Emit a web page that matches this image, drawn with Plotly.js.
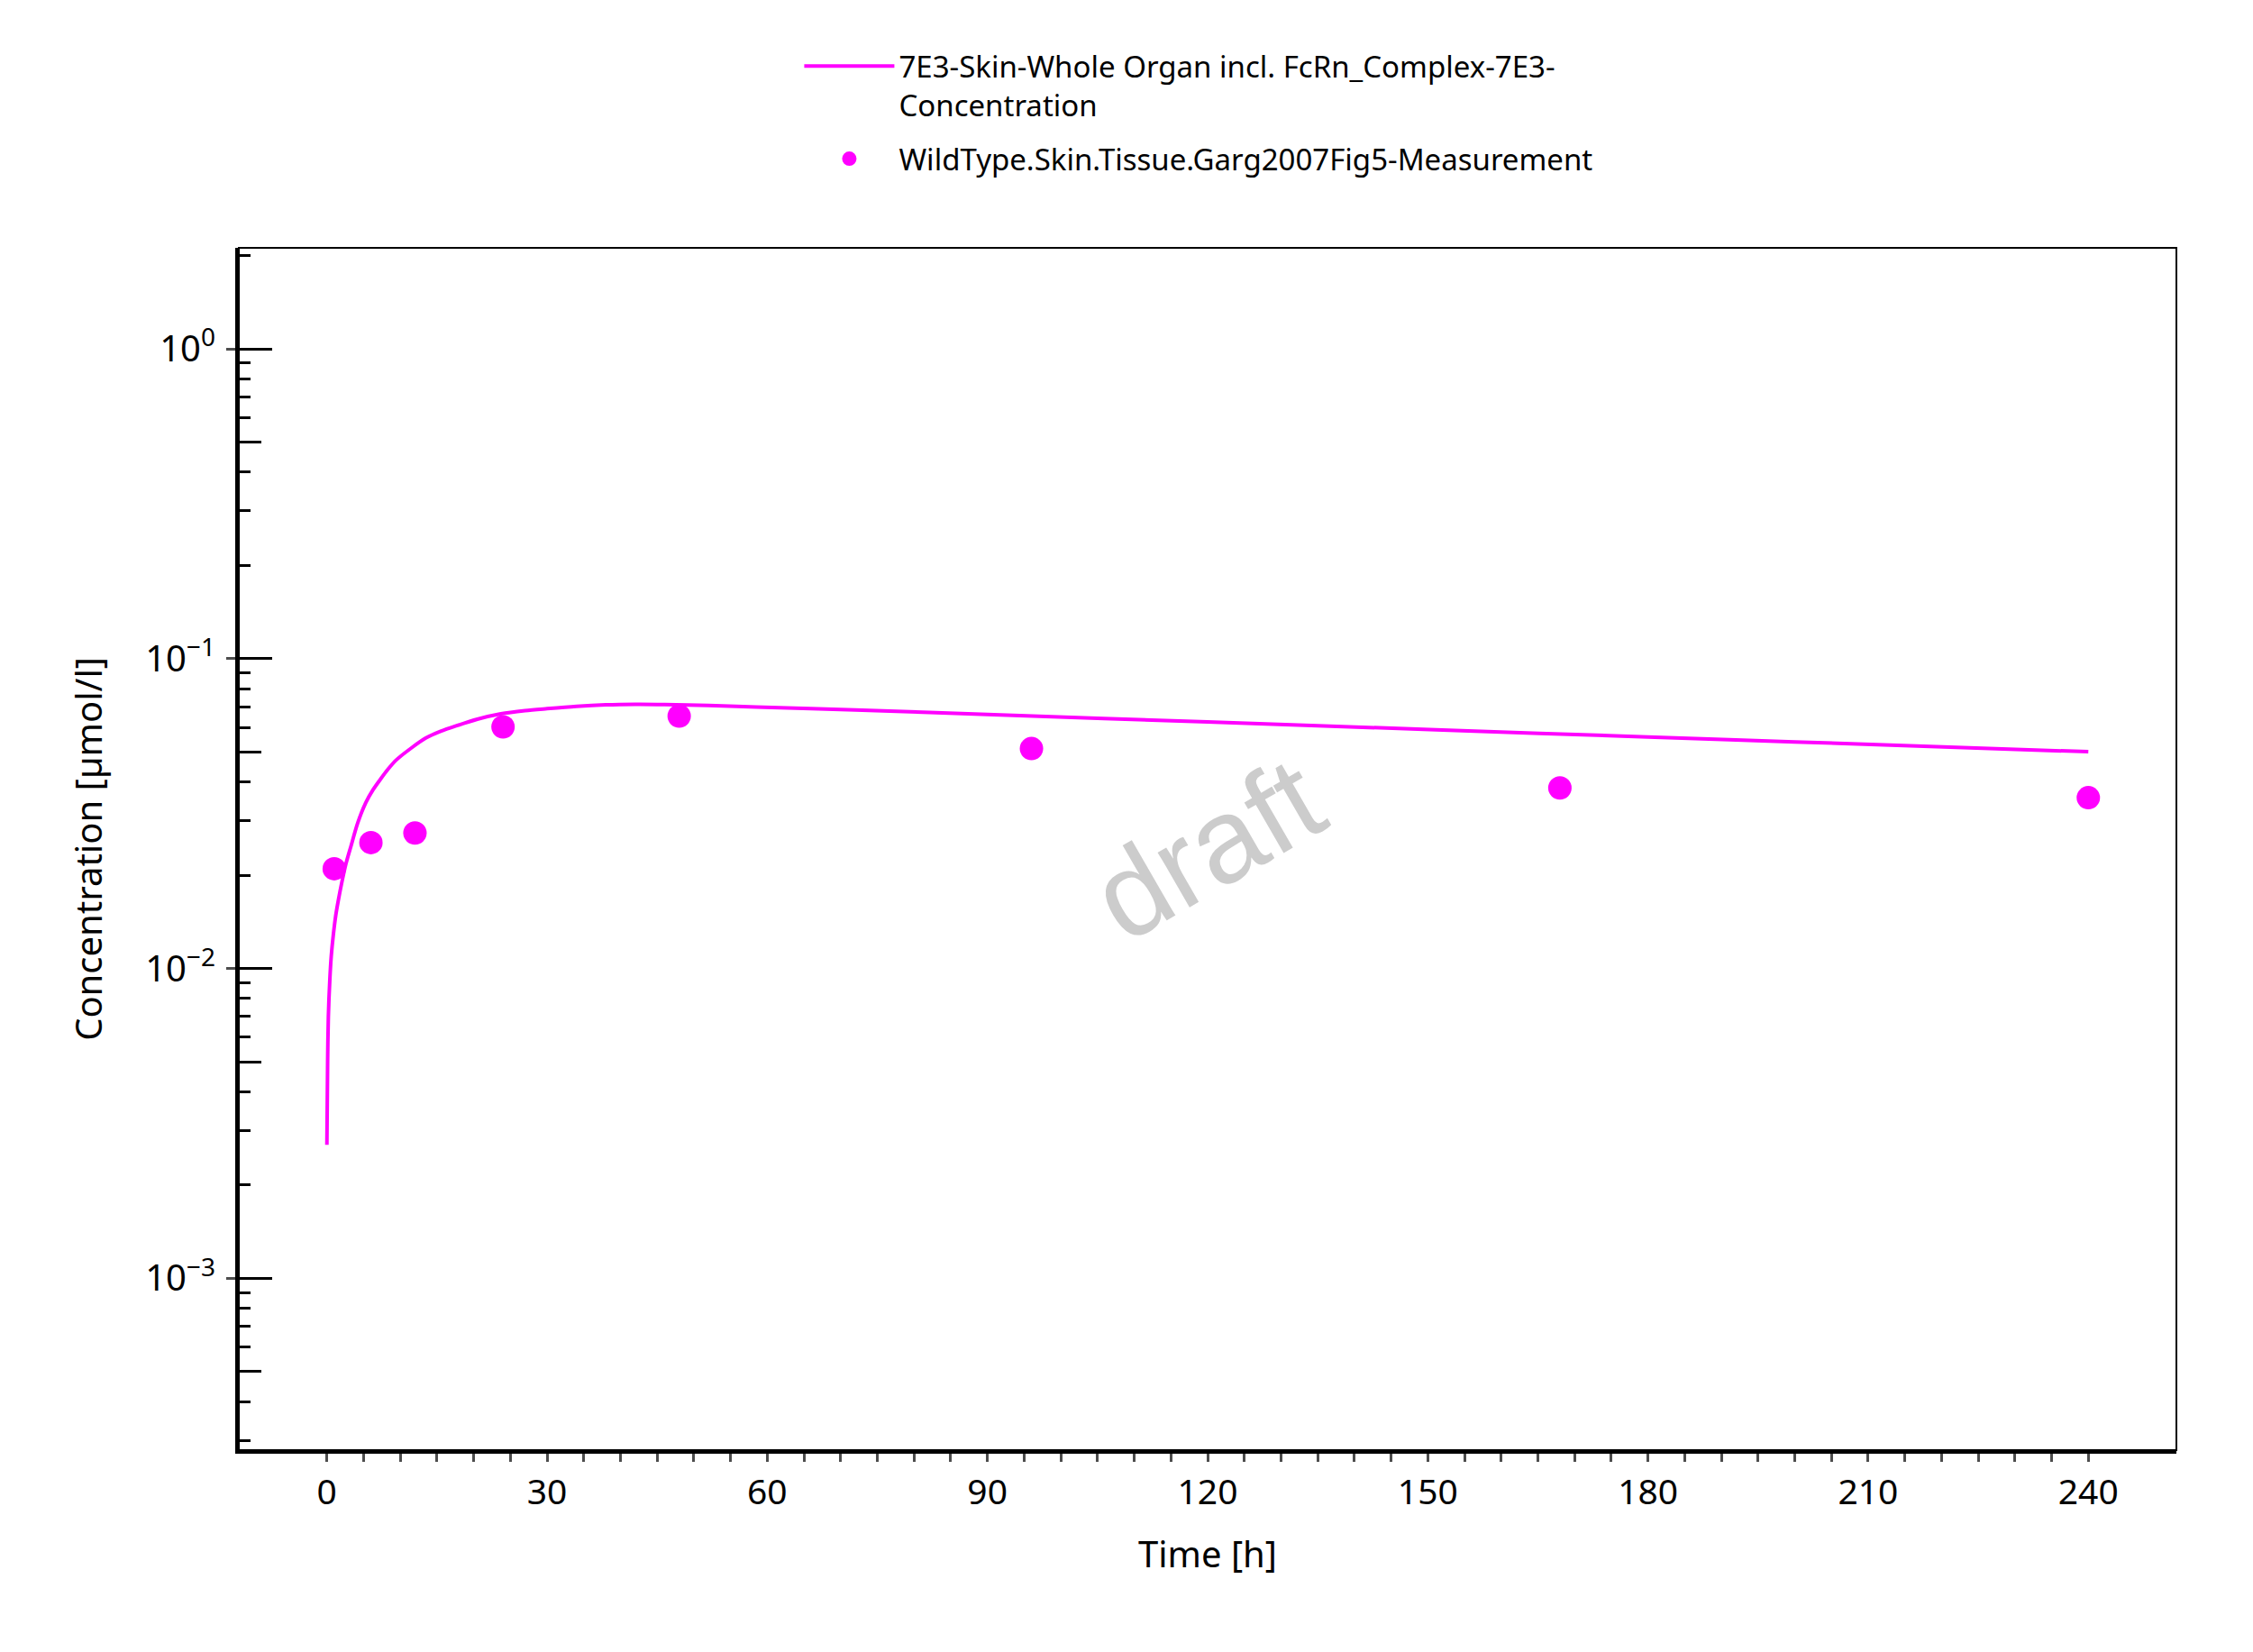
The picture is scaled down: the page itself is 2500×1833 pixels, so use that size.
<!DOCTYPE html>
<html>
<head>
<meta charset="utf-8">
<script src="https://cdn.plot.ly/plotly-3.0.1.min.js"></script>
<style>html,body{margin:0;padding:0;background:#fff;}#chart{width:2500px;height:1833px;}</style>
</head>
<body>
<div id="chart"></div>
<script>
// Simulated curve (time in h, concentration in µmol/l)
const simTime = [0, 0.1, 0.2, 0.4, 0.6, 0.9, 1.2, 1.6, 2.0, 2.6, 3.25, 4.2, 5.3, 6.3, 7.35, 8.4, 9.4, 11.5, 13.5, 15.5, 17.6, 20.5, 23.7, 27, 30, 34, 38, 42, 46, 52, 58.5, 72, 90, 120, 152, 180, 200, 240];
const simConc = [0.0027, 0.0050, 0.0070, 0.0092, 0.0110, 0.0130, 0.0148, 0.0168, 0.0188, 0.0218, 0.0247, 0.0295, 0.0343, 0.0378, 0.0410, 0.0442, 0.0470, 0.0515, 0.0555, 0.0583, 0.0607, 0.0638, 0.0664, 0.0680, 0.0690, 0.0702, 0.0710, 0.0713, 0.0712, 0.0707, 0.0699, 0.0684, 0.0661, 0.0625, 0.0589, 0.0559, 0.0539, 0.0501];
// Observed data
const obsTime = [1, 6, 12, 24, 48, 96, 168, 240];
const obsConc = [0.0210, 0.0255, 0.0274, 0.0603, 0.0653, 0.0513, 0.0383, 0.0356];

const simName = '7E3-Skin-Whole Organ incl. FcRn_Complex-7E3-<br>Concentration';
const obsName = 'WildType.Skin.Tissue.Garg2007Fig5-Measurement';

const xTickVals = [0, 30, 60, 90, 120, 150, 180, 210, 240];
const xMinorVals = [5, 10, 15, 20, 25, 35, 40, 45, 50, 55, 65, 70, 75, 80, 85, 95, 100, 105, 110, 115,
  125, 130, 135, 140, 145, 155, 160, 165, 170, 175, 185, 190, 195, 200, 205, 215, 220, 225, 230, 235];
const yMajorVals = [0.001, 0.01, 0.1, 1];
const yMajorText = ['10<sup>\u22123</sup>', '10<sup>\u22122</sup>', '10<sup>\u22121</sup>', '10<sup>0</sup>'];
const yMinorVals = [0.0003, 0.0004, 0.0006, 0.0007, 0.0008, 0.0009,
  0.002, 0.003, 0.004, 0.006, 0.007, 0.008, 0.009,
  0.02, 0.03, 0.04, 0.06, 0.07, 0.08, 0.09,
  0.2, 0.3, 0.4, 0.6, 0.7, 0.8, 0.9, 2];
const yMidVals = [0.0005, 0.005, 0.05, 0.5];

const magenta = '#ff00ff';
const font = 'Noto Sans, sans-serif';
const yRange = [Math.log10(2.79e-4), Math.log10(2.12)];

const traces = [
  {x: simTime, y: simConc, type: 'scatter', mode: 'lines', name: simName, legendgroup: 'sim',
   line: {color: magenta, width: 4, shape: 'spline', smoothing: 0.8}, hoverinfo: 'x+y'},
  {x: obsTime, y: obsConc, type: 'scatter', mode: 'markers', name: obsName, legendgroup: 'obs',
   marker: {color: magenta, size: 26}, hoverinfo: 'x+y'},
  {x: [null], y: [null], yaxis: 'y2', type: 'scatter', mode: 'markers', showlegend: false, hoverinfo: 'skip'}
];

const layout = {
  width: 2500, height: 1833,
  paper_bgcolor: '#fff', plot_bgcolor: '#fff',
  font: {family: font, size: 39, color: '#000'},
  margin: {l: 265, r: 85, t: 275, b: 224, pad: 0},
  showlegend: true,
  legend: {x: 0.2895, xanchor: 'left', y: 1.1722, yanchor: 'top',
    font: {family: font, size: 33, color: '#000'}, bgcolor: 'rgba(0,0,0,0)',
    itemwidth: 100, valign: 'top', orientation: 'v',
    traceorder: 'grouped', tracegroupgap: 14},
  xaxis: {
    range: [-12, 252], showgrid: false, zeroline: false,
    showline: true, linecolor: '#000', linewidth: 4,
    ticks: 'outside', ticklen: 9, tickwidth: 3, tickcolor: '#4d4d4d',
    tickmode: 'array', tickvals: xTickVals,
    tickfont: {family: font, size: 39, color: '#000'},
    minor: {ticks: 'outside', ticklen: 9, tickwidth: 3, tickcolor: '#4d4d4d', tickmode: 'array', tickvals: xMinorVals, showgrid: false},
    title: {text: 'Time [h]', font: {family: font, size: 40, color: '#000'}, standoff: 33},
    automargin: false
  },
  yaxis: {
    type: 'log', range: yRange, showgrid: false, zeroline: false,
    showline: true, linecolor: '#000', linewidth: 4,
    ticks: 'outside', ticklen: 10, tickwidth: 3, tickcolor: '#4d4d4d',
    tickmode: 'array', tickvals: yMajorVals, ticktext: yMajorText,
    tickfont: {family: font, size: 40, color: '#000'},
    ticklabelstandoff: 4,
    minor: {ticks: 'inside', ticklen: 13, tickwidth: 3, tickcolor: '#000', tickmode: 'array', tickvals: yMinorVals, showgrid: false},
    title: {text: 'Concentration [\u00b5mol/l]', font: {family: font, size: 40, color: '#000'}, standoff: 36},
    automargin: false
  },
  yaxis2: {
    type: 'log', range: yRange, overlaying: 'y', side: 'left', anchor: 'x',
    showgrid: false, zeroline: false, showline: false,
    ticks: 'inside', ticklen: 37, tickwidth: 3, tickcolor: '#000',
    tickmode: 'array', tickvals: yMajorVals, showticklabels: false,
    minor: {ticks: 'inside', ticklen: 25, tickwidth: 3, tickcolor: '#000', tickmode: 'array', tickvals: yMidVals, showgrid: false}
  },
  shapes: [
    {type: 'rect', xref: 'paper', yref: 'paper', x0: 0, x1: 1, y0: 0, y1: 1,
     line: {color: '#000', width: 2}, fillcolor: 'rgba(0,0,0,0)', layer: 'above'}
  ],
  annotations: [
    {text: 'draft', xref: 'paper', yref: 'paper', x: 0.5, y: 0.5, showarrow: false,
     textangle: -30, font: {family: 'Liberation Sans, Arial, sans-serif', size: 133, color: '#cccccc'}}
  ]
};

Plotly.newPlot('chart', traces, layout, {displayModeBar: false, responsive: false});
</script>
</body>
</html>
